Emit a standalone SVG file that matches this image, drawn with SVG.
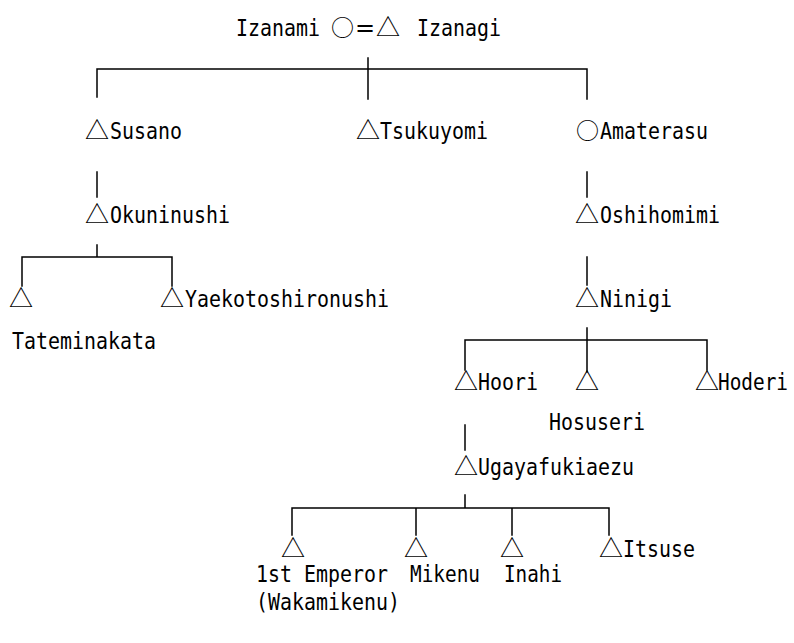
<svg xmlns="http://www.w3.org/2000/svg" width="794" height="643" viewBox="0 0 794 643">
<style>
.t { font-family: "DejaVu Sans Mono", "Liberation Mono", monospace; font-size: 23px; fill: #000; }
.s { font-family: "Noto Sans CJK JP", "DejaVu Sans", sans-serif; font-size: 24px; }
.c { font-family: "Noto Sans CJK JP", "DejaVu Sans", sans-serif; font-size: 23px; }
.eq { font-family: "DejaVu Sans", sans-serif; font-size: 24px; }
.ln { stroke: #000; stroke-width: 1.5; fill: none; stroke-linecap: square; }
</style>
<rect width="794" height="643" fill="#fff"/>
<g id="connectors" class="ln">
  <path d="M368 58V99M97 97V69H587V99"/>
  <path d="M97 172V197"/>
  <path d="M587 172V197"/>
  <path d="M97 245V257M22 286V257H172V286"/>
  <path d="M587 257V285"/>
  <path d="M587 328V372M465 370V340H707V370"/>
  <path d="M465 425V450"/>
  <path d="M465 495V508M292 535V508H609V535M416 508V535M512 508V535"/>
</g>
<g id="izanami-izanagi"><text class="t" y="36"><tspan x="236" textLength="84" lengthAdjust="spacingAndGlyphs">Izanami</tspan> <tspan class="c" x="331">○</tspan><tspan class="eq" x="355">=</tspan><tspan class="s" x="376">△</tspan> <tspan x="417" textLength="84" lengthAdjust="spacingAndGlyphs">Izanagi</tspan></text></g>
<g id="susano"><text class="t" y="139"><tspan class="s" x="85">△</tspan><tspan x="110" textLength="72" lengthAdjust="spacingAndGlyphs">Susano</tspan></text></g>
<g id="tsukuyomi"><text class="t" y="139"><tspan class="s" x="356">△</tspan><tspan x="380" textLength="108" lengthAdjust="spacingAndGlyphs">Tsukuyomi</tspan></text></g>
<g id="amaterasu"><text class="t" y="139"><tspan class="c" x="576">○</tspan><tspan x="600" textLength="108" lengthAdjust="spacingAndGlyphs">Amaterasu</tspan></text></g>
<g id="okuninushi"><text class="t" y="223"><tspan class="s" x="85">△</tspan><tspan x="110" textLength="120" lengthAdjust="spacingAndGlyphs">Okuninushi</tspan></text></g>
<g id="oshihomimi"><text class="t" y="223"><tspan class="s" x="575">△</tspan><tspan x="600" textLength="120" lengthAdjust="spacingAndGlyphs">Oshihomimi</tspan></text></g>
<g id="tateminakata"><text class="t" y="307"><tspan class="s" x="9">△</tspan></text><text class="t" y="349" x="12" textLength="144" lengthAdjust="spacingAndGlyphs">Tateminakata</text></g>
<g id="yaekotoshironushi"><text class="t" y="307"><tspan class="s" x="160">△</tspan><tspan x="185" textLength="204" lengthAdjust="spacingAndGlyphs">Yaekotoshironushi</tspan></text></g>
<g id="ninigi"><text class="t" y="307"><tspan class="s" x="575">△</tspan><tspan x="600" textLength="72" lengthAdjust="spacingAndGlyphs">Ninigi</tspan></text></g>
<g id="hoori"><text class="t" y="390"><tspan class="s" x="454">△</tspan><tspan x="478" textLength="60" lengthAdjust="spacingAndGlyphs">Hoori</tspan></text></g>
<g id="hosuseri"><text class="t" y="390"><tspan class="s" x="575">△</tspan></text><text class="t" y="430" x="549" textLength="96" lengthAdjust="spacingAndGlyphs">Hosuseri</text></g>
<g id="hoderi"><text class="t" y="390"><tspan class="s" x="695">△</tspan><tspan x="718" textLength="70" lengthAdjust="spacingAndGlyphs">Hoderi</tspan></text></g>
<g id="ugayafukiaezu"><text class="t" y="475"><tspan class="s" x="454">△</tspan><tspan x="478" textLength="156" lengthAdjust="spacingAndGlyphs">Ugayafukiaezu</tspan></text></g>
<g id="wakamikenu"><text class="t" y="557"><tspan class="s" x="281">△</tspan></text><text class="t" y="582" x="256" textLength="132" lengthAdjust="spacingAndGlyphs">1st Emperor</text><text class="t" y="610" x="256" textLength="144" lengthAdjust="spacingAndGlyphs">(Wakamikenu)</text></g>
<g id="mikenu"><text class="t" y="557"><tspan class="s" x="404">△</tspan></text><text class="t" y="582" x="410" textLength="70" lengthAdjust="spacingAndGlyphs">Mikenu</text></g>
<g id="inahi"><text class="t" y="557"><tspan class="s" x="500">△</tspan></text><text class="t" y="582" x="504" textLength="58" lengthAdjust="spacingAndGlyphs">Inahi</text></g>
<g id="itsuse"><text class="t" y="557"><tspan class="s" x="599">△</tspan><tspan x="623" textLength="72" lengthAdjust="spacingAndGlyphs">Itsuse</tspan></text></g>
</svg>
